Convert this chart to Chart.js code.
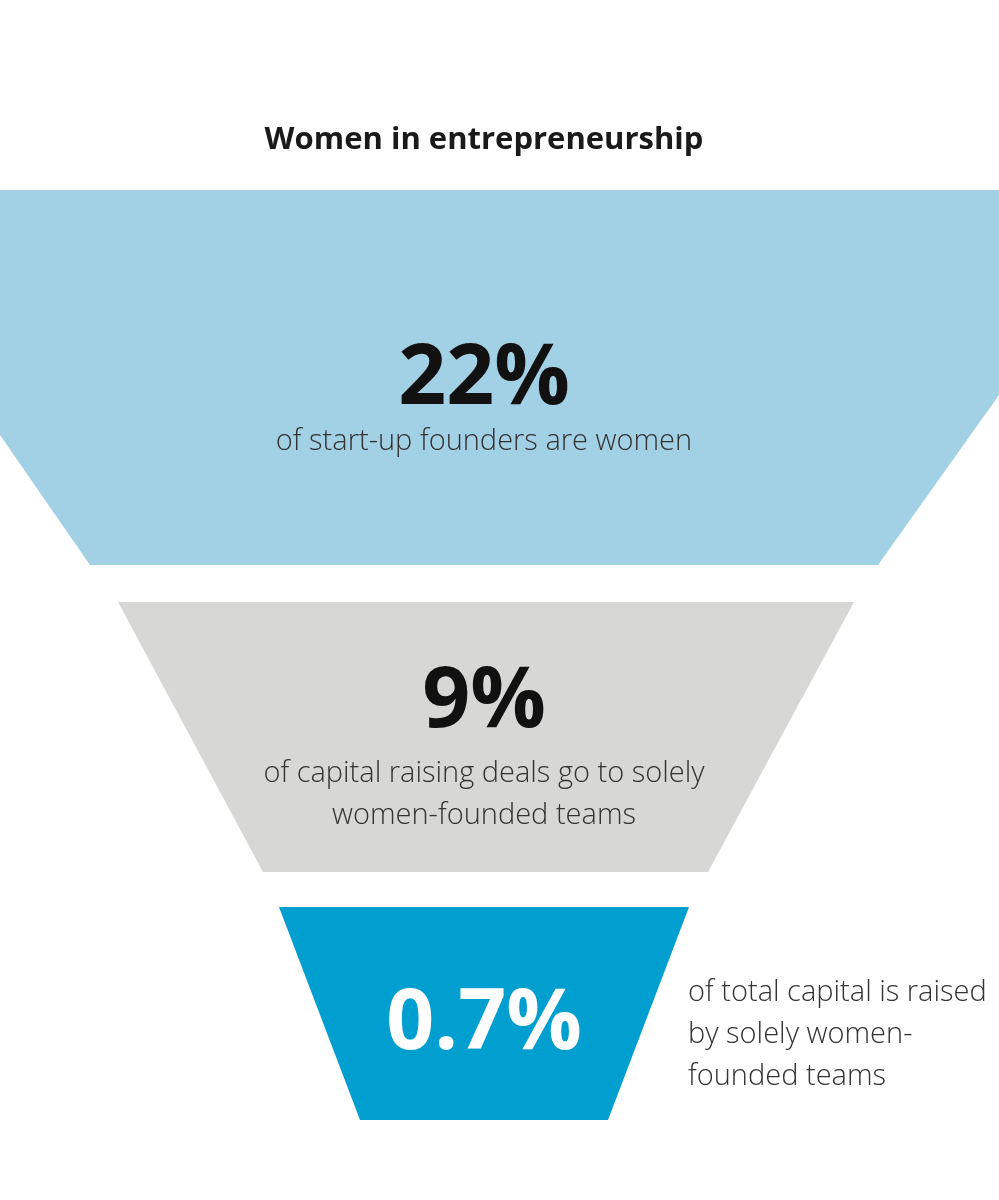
<!DOCTYPE html>
<html>
<head>
<meta charset="utf-8">
<script src="https://cdn.jsdelivr.net/npm/chart.js@4"></script>
<style>
  html, body { margin: 0; padding: 0; background: #fff; }
  #wrap { width: 999px; height: 1200px; }
</style>
</head>
<body>
<div id="wrap"><canvas id="funnel"></canvas></div>
<script>
// funnel stages (coordinates in chart units: x 0..999, y 0..1200 top-down)
const stageValues = ['22%', '9%', '0.7%'];
const stageTexts = [
  ['of start-up founders are women'],
  ['of capital raising deals go to solely', 'women-founded teams'],
  ['of total capital is raised', 'by solely women-', 'founded teams']
];
const stageColors = ['#a2d0e5', '#d7d7d5', '#009fd0'];
const stageShapes = [
  [[0, 190], [999, 190], [999, 395], [878, 565], [90, 565], [0, 435], [0, 190]],
  [[118, 602], [854, 602], [708, 872], [263, 872], [118, 602]],
  [[279, 907], [689, 907], [608, 1120], [360, 1120], [279, 907]]
];
const title = 'Women in entrepreneurship';

const datasets = stageShapes.map((pts, i) => ({
  data: pts.map(p => ({ x: p[0], y: p[1] })),
  showLine: true,
  fill: 'shape',
  backgroundColor: stageColors[i],
  borderColor: stageColors[i],
  borderWidth: 0,
  pointRadius: 0,
  tension: 0
}));

const textPlugin = {
  id: 'funnelText',
  afterDatasetsDraw(chart) {
    const ctx = chart.ctx;
    const x = chart.scales.x, y = chart.scales.y;
    ctx.save();
    ctx.textBaseline = 'middle';
    ctx.textAlign = 'center';
    ctx.fillStyle = '#1a1a1a';
    ctx.font = 'bold 31px "Open Sans"';
    ctx.fillText(title, x.getPixelForValue(484), y.getPixelForValue(140));

    // stage 1
    ctx.fillStyle = '#111';
    ctx.font = 'bold 84px "Open Sans"';
    ctx.fillText(stageValues[0], x.getPixelForValue(484), y.getPixelForValue(380));
    ctx.fillStyle = '#333';
    ctx.font = '300 29px "Open Sans"';
    ctx.fillText(stageTexts[0][0], x.getPixelForValue(484), y.getPixelForValue(442));

    // stage 2
    ctx.fillStyle = '#111';
    ctx.font = 'bold 84px "Open Sans"';
    ctx.fillText(stageValues[1], x.getPixelForValue(484), y.getPixelForValue(703));
    ctx.fillStyle = '#333';
    ctx.font = '300 29px "Open Sans"';
    stageTexts[1].forEach((t, i) =>
      ctx.fillText(t, x.getPixelForValue(484), y.getPixelForValue(774 + i * 42)));

    // stage 3
    ctx.fillStyle = '#fff';
    ctx.font = 'bold 84px "Open Sans"';
    ctx.fillText(stageValues[2], x.getPixelForValue(484), y.getPixelForValue(1025));
    ctx.fillStyle = '#333';
    ctx.font = '300 29px "Open Sans"';
    ctx.textAlign = 'left';
    stageTexts[2].forEach((t, i) =>
      ctx.fillText(t, x.getPixelForValue(688), y.getPixelForValue(993 + i * 42)));
    ctx.restore();
  }
};

new Chart(document.getElementById('funnel'), {
  type: 'scatter',
  data: { datasets },
  plugins: [textPlugin],
  options: {
    responsive: true,
    maintainAspectRatio: false,
    animation: false,
    layout: { padding: 0 },
    plugins: { legend: { display: false }, tooltip: { enabled: false } },
    scales: {
      x: { type: 'linear', min: 0, max: 999, display: false },
      y: { type: 'linear', min: 0, max: 1200, reverse: true, display: false }
    }
  }
});
</script>
</body>
</html>
